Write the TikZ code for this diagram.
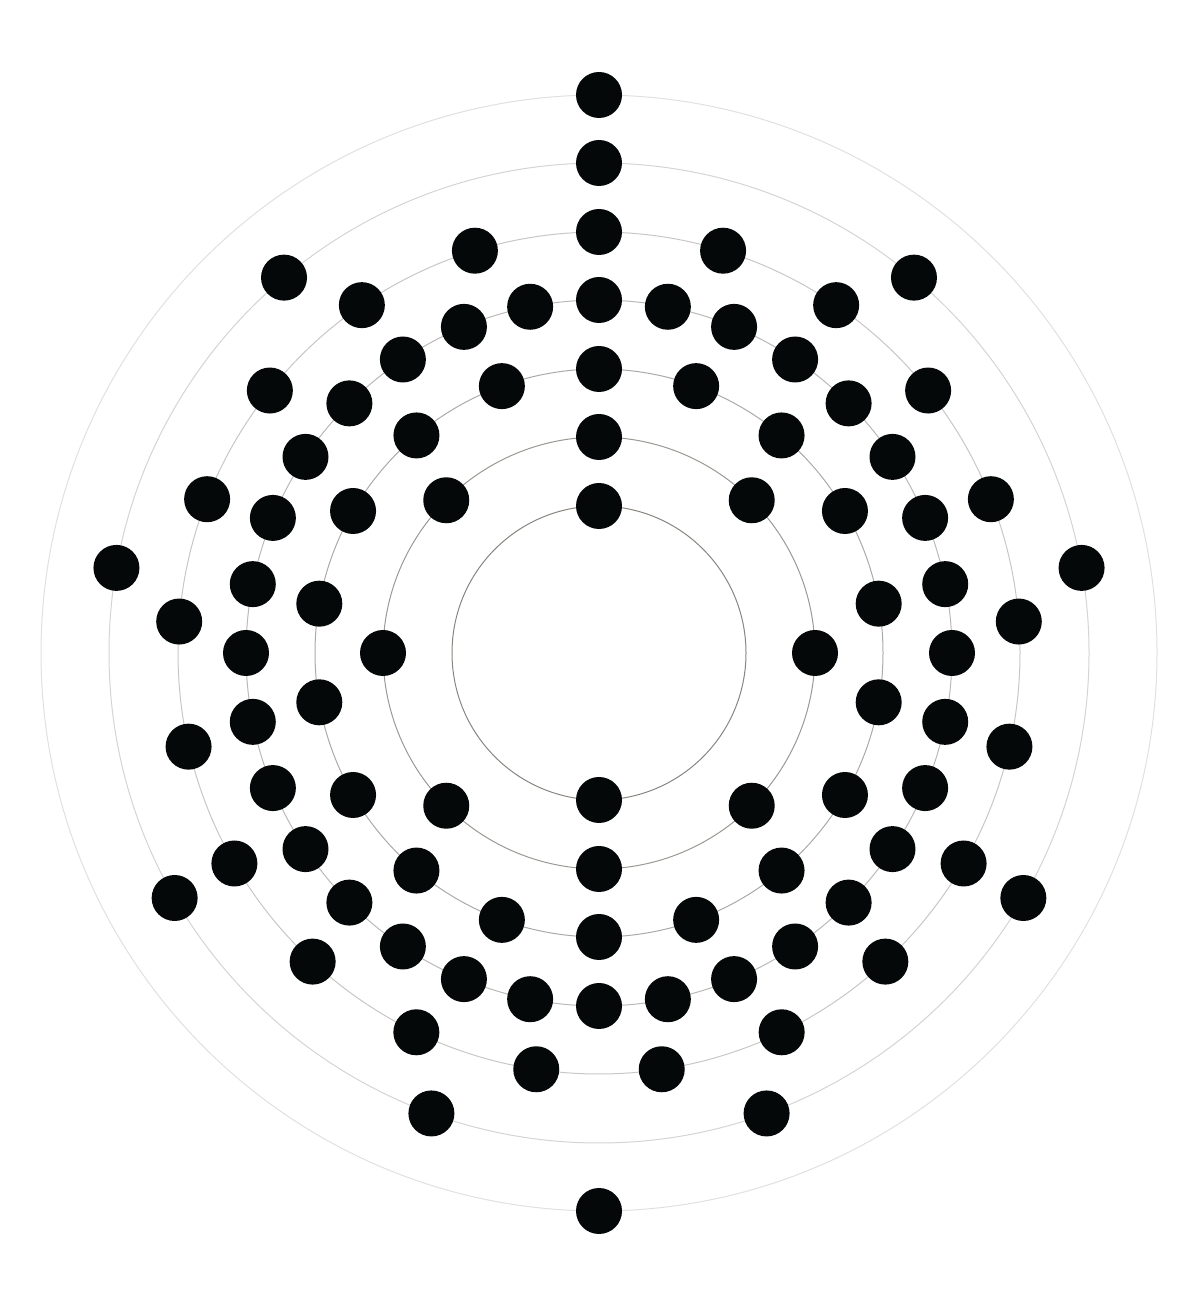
\documentclass[tikz,border=0pt]{standalone}
\definecolor{elec}{HTML}{040808}
\definecolor{sh1}{HTML}{8A8580}
\definecolor{sh2}{HTML}{9C9894}
\definecolor{sh3}{HTML}{ACA9A6}
\definecolor{sh4}{HTML}{BBB9B7}
\definecolor{sh5}{HTML}{C8C7C6}
\definecolor{sh6}{HTML}{D5D4D4}
\definecolor{sh7}{HTML}{E0E0E0}
\tikzset{electron/.style={circle,fill=elec,inner sep=0pt,minimum size=46pt},
  shell/.style={line width=1pt}}
\begin{document}
\begin{tikzpicture}[x=1pt,y=1pt]
\useasboundingbox (0,0) rectangle (1200,1315);
\coordinate (c) at (599,662);
\foreach \r [count=\k] in {147,216,284,353,421,490,558}{
  \draw[shell,draw=sh\k] (c) circle[radius=\r];
}
\foreach \r/\n [count=\k] in {147/2,216/8,284/18,353/32,421/21,490/9,558/2}{
  \foreach \i in {1,...,\n}{
    \pgfmathsetmacro{\ang}{90+360*(\i-1)/\n}
    \node[electron] (e\k-\i) at ([shift={(\ang:\r)}]c) {};
  }
}
\end{tikzpicture}
\end{document}
